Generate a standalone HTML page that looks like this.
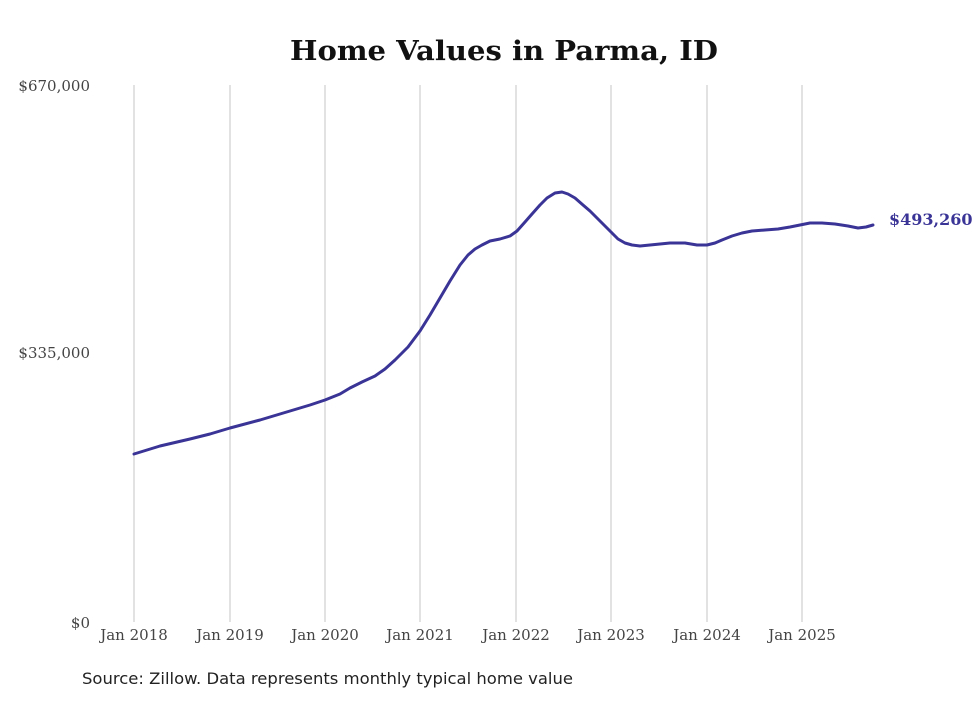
<!DOCTYPE html>
<html><head><meta charset="utf-8"><style>
html,body{margin:0;padding:0;background:#fff;}
</style></head><body>
<svg width="980" height="699" viewBox="0 0 980 699" xmlns="http://www.w3.org/2000/svg">
<rect width="980" height="699" fill="#fff"/>
<text x="504" y="60" text-anchor="middle" font-family="DejaVu Serif, Liberation Serif, serif" font-weight="bold" font-size="27" textLength="428" lengthAdjust="spacingAndGlyphs" fill="#111">Home Values in Parma, ID</text>
<g stroke="#c4c4c4" stroke-width="1">
<line x1="134" y1="85" x2="134" y2="622"/>
<line x1="230" y1="85" x2="230" y2="622"/>
<line x1="325" y1="85" x2="325" y2="622"/>
<line x1="420" y1="85" x2="420" y2="622"/>
<line x1="516" y1="85" x2="516" y2="622"/>
<line x1="611" y1="85" x2="611" y2="622"/>
<line x1="707" y1="85" x2="707" y2="622"/>
<line x1="802" y1="85" x2="802" y2="622"/>
</g>
<g font-family="DejaVu Serif, Liberation Serif, serif" font-size="15" fill="#444">
<text x="90" y="91" text-anchor="end">$670,000</text>
<text x="90" y="358" text-anchor="end">$335,000</text>
<text x="90" y="628" text-anchor="end">$0</text>
<g text-anchor="middle">
<text x="134" y="640">Jan 2018</text>
<text x="230" y="640">Jan 2019</text>
<text x="325" y="640">Jan 2020</text>
<text x="420" y="640">Jan 2021</text>
<text x="516" y="640">Jan 2022</text>
<text x="611" y="640">Jan 2023</text>
<text x="707" y="640">Jan 2024</text>
<text x="802" y="640">Jan 2025</text>
</g>
</g>
<polyline fill="none" stroke="#3a3496" stroke-width="3" stroke-linejoin="round" stroke-linecap="round"
points="134,454 160,446 190,439 210,434 230,428 260,420 290,411 310,405 325,400 340,394 350,388 362,382 375,376 385,369 395,360 408,347 420,331 430,315 440,298 450,281 460,265 468,255 475,249 482,245 490,241 500,239 510,236 517,231 525,222 532,214 540,205 547,198 555,193 562,192 568,194 575,198 583,205 590,211 600,221 611,232 618,239 625,243 632,245 640,246 650,245 660,244 670,243 685,243 697,245 707,245 715,243 722,240 732,236 742,233 752,231 765,230 778,229 790,227 800,225 810,223 822,223 835,224 848,226 858,228 866,227 873,225"/>
<text x="889" y="225" font-family="DejaVu Serif, Liberation Serif, serif" font-weight="bold" font-size="16" fill="#3a3496">$493,260</text>
<text x="82" y="684" font-family="DejaVu Sans, Liberation Sans, sans-serif" font-size="16" textLength="491" lengthAdjust="spacingAndGlyphs" fill="#222">Source: Zillow. Data represents monthly typical home value</text>
</svg>
</body></html>
